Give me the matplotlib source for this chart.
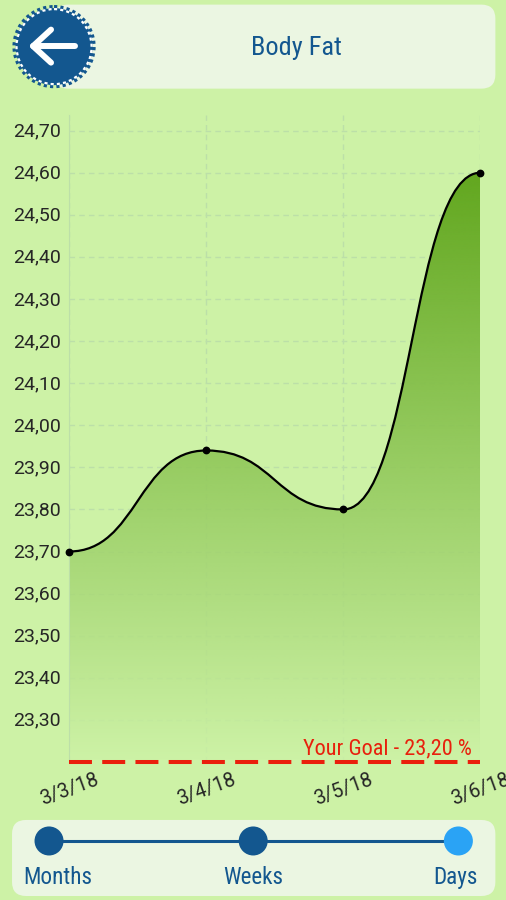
import numpy as np
import logging
import matplotlib
matplotlib.use("Agg")
import matplotlib.pyplot as plt
from matplotlib.patches import Circle, FancyBboxPatch, PathPatch
from matplotlib.path import Path
from matplotlib.transforms import ScaledTranslation

logging.getLogger("matplotlib.font_manager").setLevel(logging.ERROR)

# Data
dates = ["3/3/18", "3/4/18", "3/5/18", "3/6/18"]
body_fat = [23.70, 23.94, 23.80, 24.60]
goal = 23.20
y_ticks = [23.30, 23.40, 23.50, 23.60, 23.70, 23.80, 23.90, 24.00,
           24.10, 24.20, 24.30, 24.40, 24.50, 24.60, 24.70]
title = "Body Fat"
range_labels = ["Months", "Weeks", "Days"]

W, H = 506, 900
BG = "#cdf2a6"
PANEL = "#ebf6e2"
BLUE = "#13578f"
NARROW = ["Roboto Condensed", "Liberation Sans Narrow", "Roboto"]

fig = plt.figure(figsize=((W + 0.4) / 100, (H + 0.4) / 100), dpi=100, facecolor=BG)


def rect(l, t, r, b):
    return [l / W, 1 - b / H, (r - l) / W, (b - t) / H]


# Chart
ax = fig.add_axes(rect(69, 115, 480, 762), facecolor="none")
ymin, ymax = goal, 24.738
ax.set_xlim(0, 3)
ax.set_ylim(ymin, ymax)

x = np.arange(len(body_fat))
verts = [(x[0], body_fat[0])]
codes = [Path.MOVETO]
for i in range(len(x) - 1):
    mid = (x[i] + x[i + 1]) / 2
    verts += [(mid, body_fat[i]), (mid, body_fat[i + 1]), (x[i + 1], body_fat[i + 1])]
    codes += [Path.CURVE4] * 3
curve = Path(verts, codes)

fill_path = Path(verts + [(x[-1], ymin), (x[0], ymin), (x[0], body_fat[0])],
                 codes + [Path.LINETO, Path.LINETO, Path.LINETO])

# Opaque underlay mutes the grid inside the filled area
under = PathPatch(fill_path, fc=BG, ec="none", alpha=0.8, zorder=0.9)
ax.add_patch(under)

grad = np.zeros((256, 1, 4))
grad[..., :3] = matplotlib.colors.to_rgb("#62a71f")
grad[:, 0, 3] = np.linspace(1.0, 0.0, 256)
im = ax.imshow(grad, extent=[0, 3, ymin, max(body_fat)], origin="upper",
               aspect="auto", zorder=1, interpolation="bilinear")
patch = PathPatch(fill_path, fc="none", ec="none", transform=ax.transData)
ax.add_patch(patch)
im.set_clip_path(patch)
ax.set_xlim(0, 3)
ax.set_ylim(ymin, ymax)

ax.grid(True, color="#bcdfa8", linestyle=(0, (4, 3)), linewidth=1)
ax.set_axisbelow(True)
ax.add_patch(PathPatch(curve, fc="none", ec="black", lw=1.6, zorder=3))
ax.plot(x, body_fat, "o", color="black", ms=4.6, zorder=4, clip_on=False)
ax.axhline(goal, color="#ea1f0c", lw=2.9, linestyle=(0, (5.7, 2.55)), zorder=5, clip_on=False)
ax.text(2.94, goal + 0.008, f"Your Goal - {goal:.2f} %".replace(".", ","),
        color="#e8200c", family=NARROW, fontsize=16, ha="right", va="bottom", zorder=5)

for s in ["top", "right", "bottom"]:
    ax.spines[s].set_visible(False)
ax.spines["left"].set_color("#bcdfa8")
ax.set_yticks(y_ticks)
ax.set_yticklabels([f"{v:.2f}".replace(".", ",") for v in y_ticks],
                   family="Roboto", fontsize=14, color="#262626", va="center_baseline")
ax.set_xticks(x)
ax.set_xticklabels(dates, family="Roboto", fontsize=14.2, color="#262626",
                   rotation=20, ha="center", va="top", clip_on=False)
ax.tick_params(axis="y", length=0, pad=6)
ax.tick_params(axis="x", length=0, pad=6)
for t in ax.get_yticklabels():
    t.set_transform(t.get_transform() + ScaledTranslation(0, 1.5 / 100, fig.dpi_scale_trans))

# Chrome overlay in pixel coordinates
ov = fig.add_axes([0, 0, 1, 1], facecolor="none")
ov.set_xlim(0, W)
ov.set_ylim(H, 0)
ov.axis("off")


def panel(l, t, r, b, rad=14):
    ov.add_patch(FancyBboxPatch((l + rad, t + rad), r - l - 2 * rad, b - t - 2 * rad,
                                boxstyle=f"round,pad={rad},rounding_size={rad}",
                                fc=PANEL, ec="none", zorder=1))


panel(54, 5, 495, 89)
panel(12, 820, 495, 896)

ov.text(296, 48, title, family=NARROW, fontsize=19, color=BLUE, ha="center", va="center", zorder=3)

# Back button
ov.add_patch(Circle((54, 47), 38.5, fc=BLUE, ec="none", zorder=3))
ov.add_patch(Circle((54, 47), 39.5, fc="none", ec=BLUE, lw=3, linestyle=(0, (0.75, 0.75)), zorder=3))
ov.add_patch(Circle((54, 47), 37.5, fc="none", ec="white", lw=1.6, linestyle=(0, (1.4, 1.4)), zorder=4))
ov.plot([33, 75], [46.5, 46.5], color="white", lw=4.3, solid_capstyle="round", zorder=5)
ov.plot([51, 33, 51], [30, 46.5, 63], color="white", lw=4.3, solid_capstyle="round",
        solid_joinstyle="round", zorder=5)

# Range selector
cx = [49, 253, 458]
lx = [58, 253, 455]
ov.plot([cx[0], cx[-1]], [841, 841], color=BLUE, lw=2.2, zorder=3)
for i, (c, l) in enumerate(zip(cx, lx)):
    ov.add_patch(Circle((c, 841), 14.5, fc="#2aa3f5" if i == 2 else BLUE, ec="none", zorder=4))
    ov.text(l, 877, range_labels[i], family=NARROW, fontsize=16.7, color=BLUE,
            ha="center", va="center", zorder=4)

fig.savefig("out.png", dpi=100, facecolor=BG)
